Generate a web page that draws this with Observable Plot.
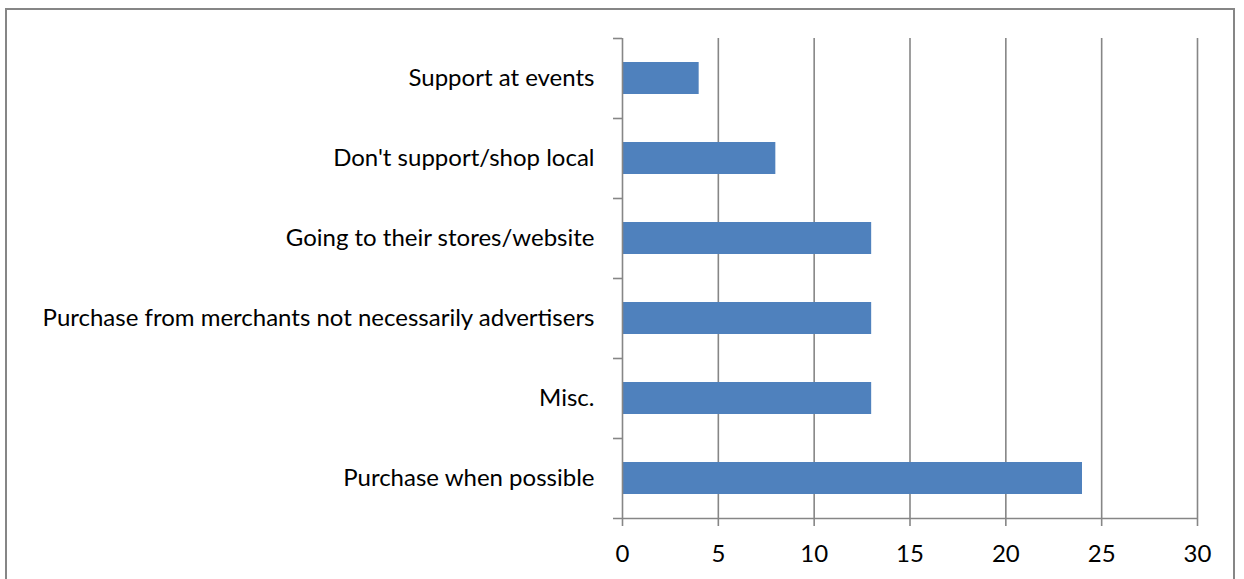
<!DOCTYPE html>
<html>
<head>
<meta charset="utf-8">
<script src="https://cdn.jsdelivr.net/npm/d3@7"></script>
<script src="https://cdn.jsdelivr.net/npm/@observablehq/plot@0.6"></script>
<style>
  html, body { margin: 0; padding: 0; background: #fff; overflow: hidden; }
  #wrap { position: relative; width: 1244px; height: 579px; }
  #frame { position: absolute; left: 5px; top: 8px; width: 1230px; height: 600px; border: 2px solid #868686; box-sizing: border-box; }
  #chart { position: absolute; left: 0; top: 0; }
</style>
</head>
<body>
<div id="wrap"><div id="frame"></div><div id="chart"></div></div>
<script>
const categories = [
  "Support at events",
  "Don't support/shop local",
  "Going to their stores/website",
  "Purchase from merchants not necessarily advertisers",
  "Misc.",
  "Purchase when possible"
];
const values = [4, 8, 13, 13, 13, 24];
const xTicks = [0, 5, 10, 15, 20, 25, 30];

const data = categories.map((c, i) => ({category: c, value: values[i]}));
const axisColor = "#868686";
const font = "Lato, 'Open Sans', sans-serif";

const plotHeight = 579, marginTop = 38, marginBottom = 61;
const step = (plotHeight - marginTop - marginBottom) / categories.length;

const chart = Plot.plot({
  width: 1244,
  height: plotHeight,
  marginLeft: 622,
  marginRight: 47,
  marginTop,
  marginBottom,
  style: {fontFamily: font, fontSize: "24px", color: "#000", background: "transparent"},
  x: {domain: [0, 30], ticks: xTicks},
  y: {domain: categories, paddingInner: 0.6, paddingOuter: 0.3, align: 0.5},
  marks: [
    Plot.gridX(xTicks.slice(1), {stroke: axisColor, strokeOpacity: 1, strokeWidth: 1.6}),
    Plot.barX(data, {y: "category", x: "value", fill: "#4f81bd"}),
    Plot.ruleX([0], {stroke: axisColor, strokeWidth: 1.6}),
    Plot.ruleY(categories, {y: d => d, x1: 0, x2: 0, dy: -step / 2, insetLeft: -9, stroke: axisColor, strokeWidth: 1.6}),
    Plot.ruleY(categories.slice(-1), {y: d => d, x1: 0, x2: 30, dy: step / 2, insetLeft: -9, stroke: axisColor, strokeWidth: 1.6}),
    Plot.axisX(xTicks, {tickSize: 8, tickPadding: 18, stroke: axisColor, strokeWidth: 1.6, fill: "#000", fontSize: 24, label: null}),
    Plot.axisY({tickSize: 0, tickPadding: 28, fill: "#000", fontSize: 24, label: null})
  ]
});
document.getElementById("chart").appendChild(chart);
</script>
</body>
</html>
